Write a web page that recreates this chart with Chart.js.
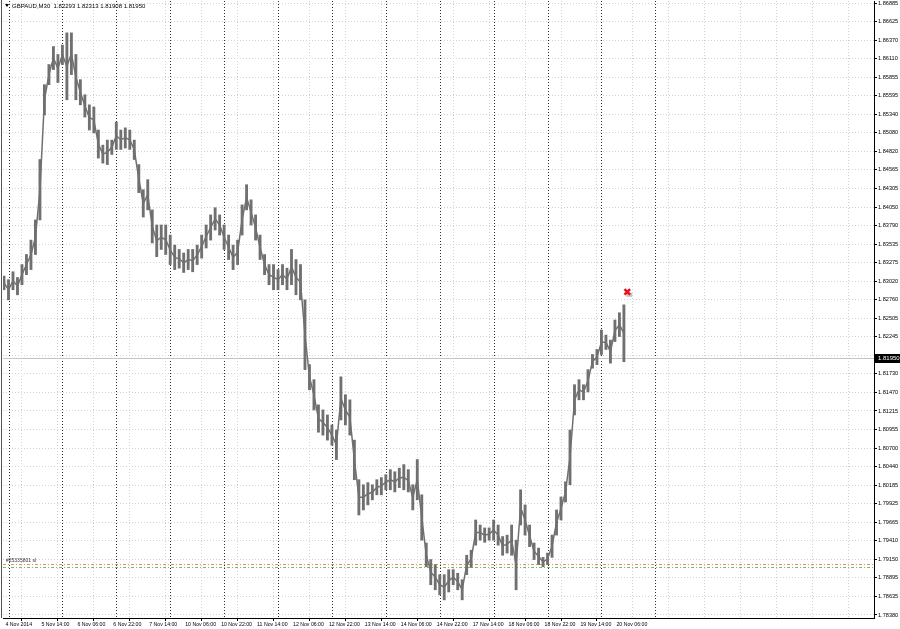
<!DOCTYPE html>
<html>
<head>
<meta charset="utf-8">
<script src="https://cdn.jsdelivr.net/npm/chart.js@4.4.0/dist/chart.umd.min.js"></script>
<style>
  html, body { margin: 0; padding: 0; background: #fff; overflow: hidden; }
  canvas { display: block; }
</style>
</head>
<body>
<canvas id="graph-canvas" width="900" height="629"></canvas>
<script>
// --- data (GBPAUD M30, one sample every 4 bars = 2 hours) ---
const TITLE = "GBPAUD,M30  1.82293 1.82313 1.81908 1.81950";
const SAMPLE_STEP = 4; // M30 bars between samples

const HIGH = [
  1.8309, 1.8304, 1.8315, 1.8307, 1.8325, 1.8339, 1.8359, 1.8387, 1.8471, 1.8575,
  1.8603, 1.8628, 1.8617, 1.8630, 1.8647, 1.8647, 1.8617, 1.8582, 1.8561, 1.8547,
  1.8544, 1.8512, 1.8491, 1.8498, 1.8498, 1.8523, 1.8512, 1.8515, 1.8512, 1.8498,
  1.8464, 1.8429, 1.8443, 1.8401, 1.8380, 1.8380, 1.8380, 1.8366, 1.8352, 1.8346,
  1.8341, 1.8346, 1.8346, 1.8352, 1.8366, 1.8380, 1.8394, 1.8404, 1.8394, 1.8380,
  1.8366, 1.8352, 1.8359, 1.8408, 1.8436, 1.8415, 1.8394, 1.8366, 1.8339, 1.8325,
  1.8325, 1.8318, 1.8325, 1.8320, 1.8346, 1.8332, 1.8325, 1.8276, 1.8186, 1.8165,
  1.8130, 1.8123, 1.8116, 1.8102, 1.8095, 1.8169, 1.8144, 1.8137, 1.8081, 1.8026,
  1.8019, 1.8022, 1.8019, 1.8026, 1.8029, 1.8033, 1.8040, 1.8037, 1.8042, 1.8047,
  1.8040, 1.8019, 1.8054, 1.8005, 1.7938, 1.7915, 1.7908, 1.7894, 1.7894, 1.7901,
  1.7901, 1.7896, 1.7887, 1.7921, 1.7928, 1.7970, 1.7963, 1.7959, 1.7959, 1.7970,
  1.7963, 1.7947, 1.7949, 1.7963, 1.7942, 1.8012, 1.7991, 1.7963, 1.7938, 1.7931,
  1.7918, 1.7924, 1.7949, 1.7984, 1.8002, 1.8023, 1.8095, 1.8158, 1.8165, 1.8158,
  1.8179, 1.8200, 1.8207, 1.8234, 1.8227, 1.8220, 1.8248, 1.8258, 1.8269
];
const LOW = [
  1.8290, 1.8276, 1.8290, 1.8283, 1.8297, 1.8311, 1.8318, 1.8339, 1.8387, 1.8533,
  1.8575, 1.8596, 1.8578, 1.8603, 1.8554, 1.8589, 1.8554, 1.8547, 1.8530, 1.8512,
  1.8508, 1.8473, 1.8466, 1.8464, 1.8478, 1.8485, 1.8485, 1.8487, 1.8485, 1.8471,
  1.8425, 1.8391, 1.8401, 1.8355, 1.8336, 1.8346, 1.8339, 1.8325, 1.8318, 1.8320,
  1.8314, 1.8318, 1.8315, 1.8325, 1.8334, 1.8348, 1.8359, 1.8373, 1.8366, 1.8346,
  1.8332, 1.8318, 1.8325, 1.8366, 1.8401, 1.8380, 1.8359, 1.8332, 1.8311, 1.8297,
  1.8290, 1.8290, 1.8297, 1.8290, 1.8297, 1.8283, 1.8276, 1.8179, 1.8151, 1.8123,
  1.8092, 1.8088, 1.8081, 1.8074, 1.8054, 1.8109, 1.8102, 1.8088, 1.8026, 1.7977,
  1.7984, 1.7991, 1.7998, 1.8005, 1.8005, 1.8012, 1.8012, 1.8009, 1.8015, 1.8012,
  1.8009, 1.7984, 1.7998, 1.7942, 1.7905, 1.7880, 1.7873, 1.7866, 1.7859, 1.7870,
  1.7880, 1.7873, 1.7859, 1.7894, 1.7904, 1.7935, 1.7942, 1.7939, 1.7942, 1.7942,
  1.7935, 1.7921, 1.7924, 1.7921, 1.7873, 1.7963, 1.7949, 1.7933, 1.7915, 1.7908,
  1.7905, 1.7908, 1.7918, 1.7949, 1.7970, 1.7995, 1.8019, 1.8116, 1.8137, 1.8137,
  1.8148, 1.8181, 1.8186, 1.8200, 1.8207, 1.8188, 1.8218, 1.8225, 1.8190
];

// time axis: labels every 32 bars (16 h), grid continues into the empty future area
const TIME_LABELS = [
  "4 Nov 2014", "5 Nov 14:00", "6 Nov 06:00", "6 Nov 22:00", "7 Nov 14:00",
  "10 Nov 06:00", "10 Nov 22:00", "11 Nov 14:00", "12 Nov 06:00", "12 Nov 22:00",
  "13 Nov 14:00", "14 Nov 06:00", "14 Nov 22:00", "17 Nov 14:00", "18 Nov 06:00",
  "18 Nov 22:00", "19 Nov 14:00", "20 Nov 06:00"
];
const TIME_GRID_BARS = [0, 32, 64, 96, 128, 160, 192, 224, 256, 288, 320, 352, 384, 416,
  448, 480, 512, 544, 576, 608, 640, 672, 704, 736, 768];
const DAY_START_BARS = [4, 52, 100, 148, 196, 244, 292, 340, 388, 436, 484, 532, 580];

const PRICE_TICKS = [
  1.86885, 1.86625, 1.86370, 1.86110, 1.85855, 1.85595, 1.85340, 1.85080, 1.84820,
  1.84565, 1.84305, 1.84050, 1.83790, 1.83535, 1.83275, 1.83020, 1.82760, 1.82505,
  1.82245, 1.81990, 1.81730, 1.81470, 1.81215, 1.80955, 1.80700, 1.80440, 1.80185,
  1.79925, 1.79665, 1.79410, 1.79150, 1.78895, 1.78635, 1.78380
];
const BID = 1.81950;
const ORDER_PRICES = [1.79082, 1.79040];
const ORDER_TEXT = "#25335801 sl";
const MARKER = { bar: 555, price: 1.8287 };

// --- view window (bar index / price at the chart edges) ---
const X_MIN = -0.9, X_MAX = 774.7;
const Y_MIN = 1.78338, Y_MAX = 1.86913;

const FONT_FAMILY = '"Liberation Sans", Arial, sans-serif';
const SERIES = "#707070";

const barIndex = HIGH.map((_, k) => k * SAMPLE_STEP);
const rangeData = barIndex.map((b, k) => ({ x: b, y: [LOW[k], HIGH[k]] }));
const midData = barIndex.map((b, k) => ({ x: b, y: (LOW[k] + HIGH[k]) / 2 }));

const mt4Overlay = {
  id: "mt4Overlay",
  beforeDatasetsDraw(chart) {
    const { ctx, chartArea: a, scales: { x, y } } = chart;
    ctx.save();
    // day separators
    ctx.lineWidth = 1;
    ctx.strokeStyle = "#2a2a2a";
    ctx.setLineDash([1, 2]);
    DAY_START_BARS.forEach((b) => {
      const px = Math.round(x.getPixelForValue(b)) + 0.5;
      ctx.beginPath();
      ctx.moveTo(px, a.top);
      ctx.lineTo(px, a.bottom);
      ctx.stroke();
    });
    // bid line
    ctx.setLineDash([]);
    ctx.strokeStyle = "#c4c4c4";
    const by = Math.round(y.getPixelForValue(BID)) + 0.5;
    ctx.beginPath();
    ctx.moveTo(a.left, by);
    ctx.lineTo(a.right, by);
    ctx.stroke();
    // order levels
    const colors = ["#ee8a62", "#6cbf6c"];
    ctx.setLineDash([3, 2, 1, 2]);
    ORDER_PRICES.forEach((p, i) => {
      const py = Math.round(y.getPixelForValue(p)) + 0.5;
      ctx.strokeStyle = colors[i];
      ctx.beginPath();
      ctx.moveTo(a.left, py);
      ctx.lineTo(a.right, py);
      ctx.stroke();
    });
    ctx.restore();
  },
  afterDatasetsDraw(chart) {
    // soft shadow under the red marker, as the terminal draws it
    const { ctx, scales: { x, y } } = chart;
    const px = x.getPixelForValue(MARKER.bar), py = y.getPixelForValue(MARKER.price);
    ctx.save();
    ctx.globalCompositeOperation = "destination-over";
    ctx.fillStyle = "rgba(150,150,150,0.55)";
    ctx.fillRect(px - 1, py + 1, 6, 4);
    ctx.restore();
  },
  afterDraw(chart) {
    const { ctx, chartArea: a, scales: { y } } = chart;
    ctx.save();
    // left frame line
    ctx.strokeStyle = "#555";
    ctx.beginPath();
    ctx.moveTo(1.5, 0);
    ctx.lineTo(1.5, a.bottom);
    ctx.stroke();
    // title
    ctx.fillStyle = "#000";
    ctx.beginPath();
    ctx.moveTo(5, 4);
    ctx.lineTo(9, 4);
    ctx.lineTo(7, 7);
    ctx.closePath();
    ctx.fill();
    ctx.font = "6px " + FONT_FAMILY;
    ctx.textBaseline = "middle";
    ctx.fillText(TITLE, 12, 6);
    // order label
    ctx.font = "5px " + FONT_FAMILY;
    ctx.fillStyle = "#333";
    const oy = y.getPixelForValue(ORDER_PRICES[0]);
    ctx.fillText(ORDER_TEXT, 6, oy - 4);
    // bid price box
    const by = Math.round(y.getPixelForValue(BID));
    ctx.fillStyle = "#000";
    ctx.fillRect(a.right, by - 4, 900 - a.right, 9);
    ctx.fillStyle = "#fff";
    ctx.font = "6px " + FONT_FAMILY;
    ctx.fillText(BID.toFixed(5), a.right + 4, by + 0.5);
    ctx.restore();
  }
};

const canvas = document.getElementById("graph-canvas");
const ctx = canvas.getContext("2d");

new Chart(ctx, {
  type: "bar",
  data: {
    datasets: [
      {
        type: "bar",
        data: rangeData,
        backgroundColor: SERIES,
        borderWidth: 0,
        barThickness: 2.2,
        grouped: false,
        order: 2
      },
      {
        type: "line",
        data: midData,
        borderColor: SERIES,
        borderWidth: 1.5,
        pointRadius: 0,
        tension: 0,
        order: 1
      },
      {
        type: "scatter",
        data: [{ x: MARKER.bar, y: MARKER.price }],
        pointStyle: "crossRot",
        pointRadius: 4,
        borderWidth: 2.5,
        borderColor: "#e8121b",
        backgroundColor: "#e8121b",
        order: 0
      }
    ]
  },
  options: {
    responsive: false,
    maintainAspectRatio: false,
    animation: false,
    events: [],
    layout: { autoPadding: false, padding: { left: 3, top: 1, right: 0, bottom: 0 } },
    plugins: { legend: { display: false }, tooltip: { enabled: false }, title: { display: false } },
    scales: {
      x: {
        type: "linear",
        min: X_MIN,
        max: X_MAX,
        offset: false,
        afterBuildTicks: (axis) => { axis.ticks = TIME_GRID_BARS.map((v) => ({ value: v })); },
        afterFit: (axis) => {
          axis.height = 11;
          axis.paddingLeft = 0; axis.paddingRight = 0;
        },
        ticks: {
          autoSkip: false, maxRotation: 0, minRotation: 0, align: "start", padding: 0,
          labelOffset: 1.5,
          font: { family: FONT_FAMILY, size: 5.2 }, color: "#000",
          callback: (value, index) => TIME_LABELS[index] || ""
        },
        grid: {
          color: "#d2d2d2", tickLength: 3, tickBorderDash: [],
          tickColor: (c) => (c.index < TIME_LABELS.length ? "#000" : "rgba(0,0,0,0)")
        },
        border: { display: true, color: "#000", dash: [1, 2] }
      },
      y: {
        type: "linear",
        position: "right",
        min: Y_MIN,
        max: Y_MAX,
        afterBuildTicks: (axis) => { axis.ticks = PRICE_TICKS.map((v) => ({ value: v })); },
        afterFit: (axis) => {
          axis.width = 26;
          axis.paddingTop = 0; axis.paddingBottom = 0;
        },
        ticks: {
          autoSkip: false, padding: 1, font: { family: FONT_FAMILY, size: 5.6 }, color: "#000",
          callback: (value) => (Math.abs(value - BID) < 0.0005 ? "" : value.toFixed(5))
        },
        grid: { color: "#d2d2d2", tickLength: 3, tickBorderDash: [], tickColor: "#000" },
        border: { display: true, color: "#000", dash: [1, 2] }
      }
    }
  },
  plugins: [mt4Overlay]
});
</script>
</body>
</html>
